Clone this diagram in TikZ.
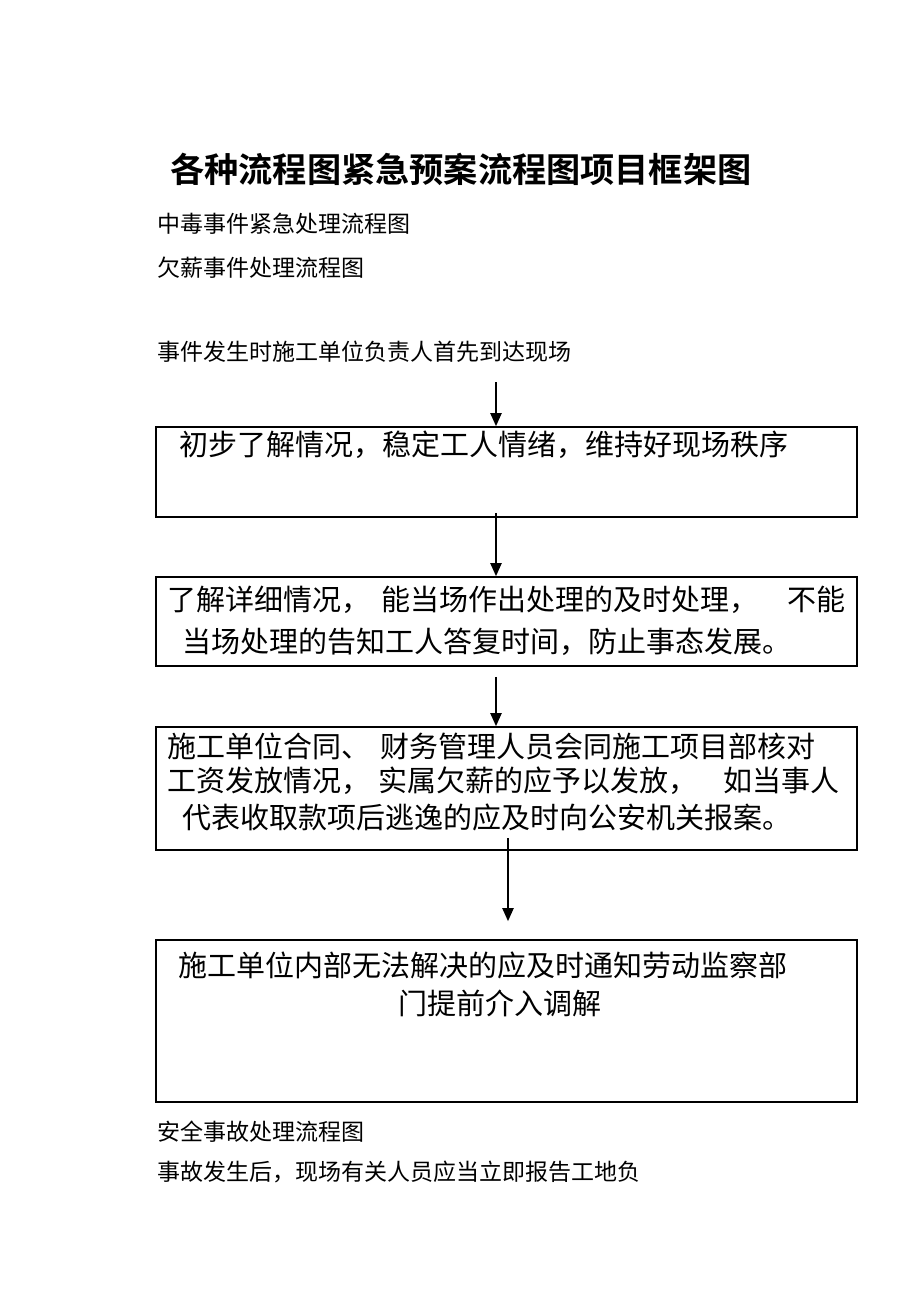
\documentclass[tikz,border=0pt]{standalone}
\usepackage{fontspec}
\setmainfont{Noto Sans CJK SC}
\newfontfamily\titlefont{Noto Sans CJK SC Bold}
\usetikzlibrary{arrows.meta}

\begin{document}
\begin{tikzpicture}[x=1pt, y=-1pt,
    box/.style={draw, line width=1.6pt, minimum width=701pt, inner sep=0pt},
    line/.style={anchor=west, inner sep=0pt, font=\fontsize{23}{28}\selectfont},
    boxtext/.style={anchor=west, inner sep=0pt, font=\fontsize{29}{35}\selectfont},
    arr/.style={-{Triangle[length=13pt, width=11pt]}, line width=2pt}]

    \useasboundingbox (0,0) rectangle (920,1302);

    \node[anchor=west, inner sep=0pt, font=\titlefont\fontsize{34.2}{40}\selectfont] (title) at (170,169) {各种流程图紧急预案流程图项目框架图};
    \node[line] (t1) at (157,224) {中毒事件紧急处理流程图};
    \node[line] (t2) at (157,268) {欠薪事件处理流程图};
    \node[line] (t3) at (157,352) {事件发生时施工单位负责人首先到达现场};

    \node[box, minimum height=90pt] (b1) at (506.5,472) {};
    \node[box, minimum height=89pt] (b2) at (506.5,621.5) {};
    \node[box, minimum height=123pt] (b3) at (506.5,788.5) {};
    \node[box, minimum height=162pt] (b4) at (506.5,1021) {};

    \node[boxtext] (b1l1) at (179,445) {初步了解情况，稳定工人情绪，维持好现场秩序};
    \node[boxtext] (b2l1) at (167,600) {了解详细情况，\hspace{0.4em}能当场作出处理的及时处理，\hspace{1em}不能};
    \node[boxtext] (b2l2) at (182,642) {当场处理的告知工人答复时间，防止事态发展。};
    \node[boxtext] (b3l1) at (167,746) {施工单位合同、\hspace{0.35em}财务管理人员会同施工项目部核对};
    \node[boxtext] (b3l2) at (167,781) {工资发放情况，\hspace{0.3em}实属欠薪的应予以发放，\hspace{0.9em}如当事人};
    \node[boxtext] (b3l3) at (182,817) {代表收取款项后逃逸的应及时向公安机关报案。};
    \node[boxtext] (b4l1) at (178,965) {施工单位内部无法解决的应及时通知劳动监察部};
    \node[boxtext, anchor=center] (b4l2) at (500,1003) {门提前介入调解};

    \node[line] (t4) at (157,1132) {安全事故处理流程图};
    \node[line] (t5) at (157,1172) {事故发生后，现场有关人员应当立即报告工地负};

    % arrows between the steps
    \coordinate (a1) at (496,382);
    \coordinate (a4) at (508,838);
    \draw[arr] (a1) -- (a1 |- b1.north);
    \draw[arr] ([yshift=5pt]a1 |- b1.south) -- (a1 |- b2.north);
    \draw[arr] ([yshift=-10pt]a1 |- b2.south) -- (a1 |- b3.north);
    \draw[arr] (a4) -- ([yshift=18pt]a4 |- b4.north);
\end{tikzpicture}
\end{document}
